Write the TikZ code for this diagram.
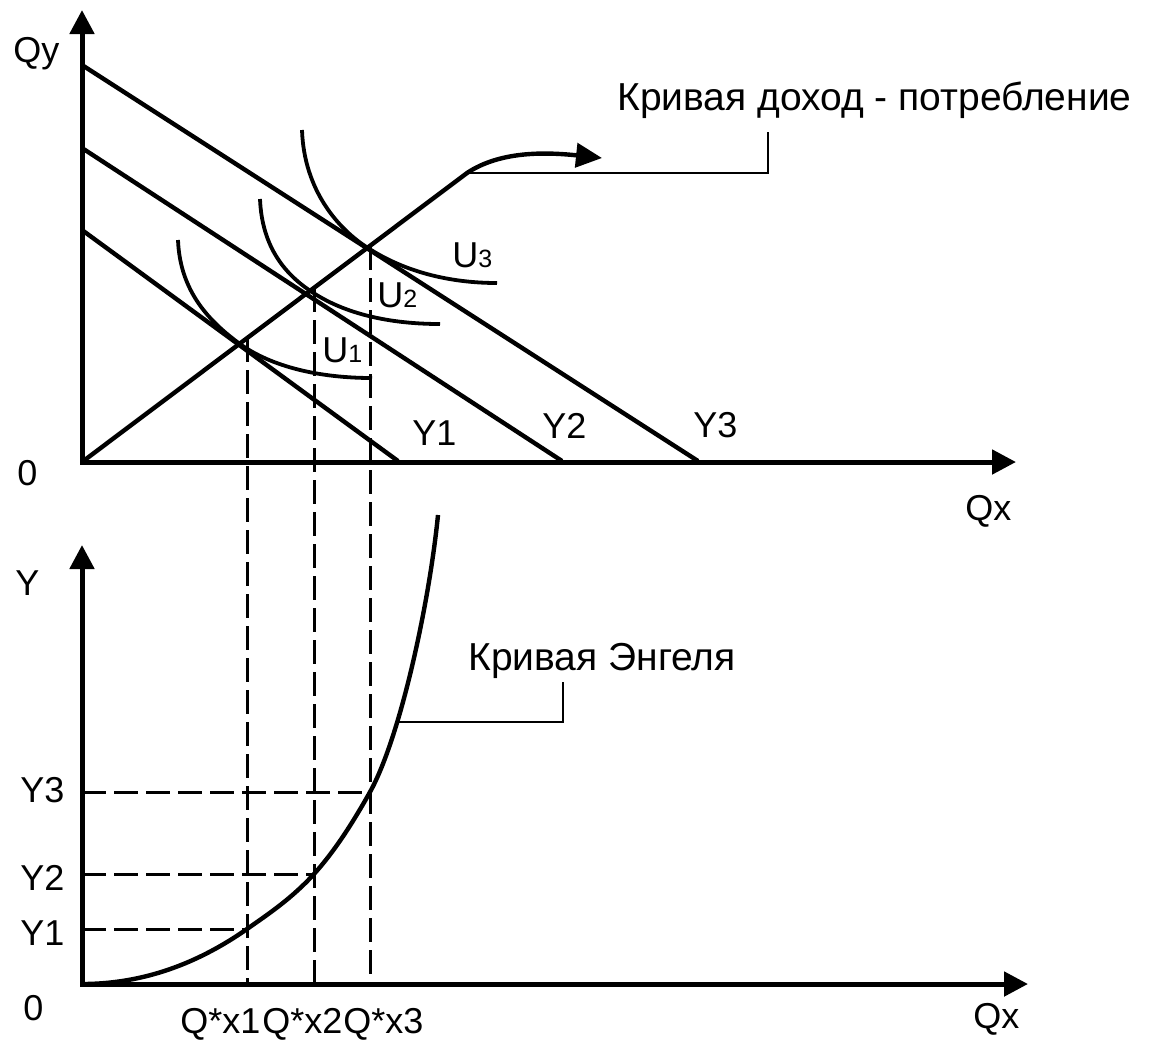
\documentclass[tikz,border=0pt]{standalone}
\usepackage{fontspec}
\setmainfont{Liberation Sans}
\usetikzlibrary{arrows.meta}

\newcommand{\smalldig}[1]{{\fontsize{12.5}{13}\selectfont #1}}

\begin{document}
\begin{tikzpicture}[x=0.5pt, y=-0.5pt, font=\fontsize{18}{21.6}\selectfont]

% --- Styles ---
\tikzset{
    axisline/.style={line width=2.5pt, line join=miter, {Triangle[length=12pt, width=12pt]}-{Triangle[length=12pt, width=12pt]}},
    budget/.style={line width=2.2pt},
    indiff/.style={line width=1.9pt},
    guide/.style={line width=1.5pt, dash pattern=on 12pt off 4pt},
    leader/.style={line width=1pt},
    lbl/.style={inner sep=0pt, anchor=base west},
    note/.style={inner sep=0pt, anchor=base west, font=\fontsize{19.5}{23}\selectfont},
}

\useasboundingbox (0,0) rectangle (1162,1041);

% --- Upper graph: axes ---
\coordinate (O1) at (82,462);
\coordinate (qyend) at (82,10);
\coordinate (qxend) at (1016,462);
\draw[axisline] (qyend) -- (O1) -- (qxend);
\node[lbl] (qy) at (13,62) {Qy};
\node[lbl] (qx1) at (965,520) {Qx};
\node[lbl] (zero1) at (17,485) {0};

% --- Budget lines ---
\draw[budget] (82,230) -- (398,461);
\draw[budget] (82,148) -- (562,461);
\draw[budget] (82,65) -- (698,461);
\node[lbl] (y1) at (412,445) {Y1};
\node[lbl] (y2) at (542,438) {Y2};
\node[lbl] (y3) at (693,437) {Y3};

% --- Indifference curves ---
\coordinate (E1) at (240,344);
\coordinate (E2) at (312,292);
\coordinate (E3) at (368,248);
\draw[indiff] (178,240) .. controls (180,292) and (210,322) .. (E1) .. controls (272,367) and (320,378) .. (372,378);
\draw[indiff] (260,199) .. controls (262,248) and (286,275) .. (E2) .. controls (345,314) and (390,324) .. (440,324);
\draw[indiff] (302,130) .. controls (304,190) and (338,229) .. (E3) .. controls (405,272) and (450,283) .. (497,283);
\node[lbl] (u1) at (322,362) {U\smalldig{1}};
\node[lbl] (u2) at (377,307) {U\smalldig{2}};
\node[lbl] (u3) at (452,267) {U\smalldig{3}};

% --- Income-consumption curve ---
\coordinate (bend) at (467,173);
\coordinate (icctip) at (602,158);
\draw[budget, -{Triangle[length=13pt, width=12pt]}] (O1) -- (bend) .. controls (500,151) and (545,152) .. (icctip);
\node[note] (icclabel) at (617,110) {Кривая доход - потребление};
\coordinate (icccorner) at (768,173);
\coordinate (iccup) at (768,132);
\draw[leader] (bend) -- (icccorner) -- (iccup);

% --- Lower graph: axes ---
\coordinate (O2) at (82,984);
\coordinate (yend) at (82,545);
\coordinate (qxend2) at (1028,984);
\draw[axisline] (yend) -- (O2) -- (qxend2);
\node[lbl] (ylab) at (15,595) {Y};
\node[lbl] (qx2) at (973,1028) {Qx};
\node[lbl] (zero2) at (23,1020) {0};

% --- Engel curve ---
\coordinate (P1) at (247,929);
\coordinate (P2) at (314,874);
\coordinate (P3) at (370,792);
\coordinate (P4) at (438,515);
\draw[budget] (O2) .. controls (137,984) and (192,967.5) .. (P1)
    .. controls (269,913.6) and (292,898.2) .. (P2)
    .. controls (333,853) and (351,826) .. (P3)
    .. controls (400,738) and (429,605) .. (P4);
\node[note] (engel) at (468,670) {Кривая Энгеля};
\coordinate (engelpt) at (398,722);
\coordinate (engelcorner) at (563,722);
\coordinate (engelup) at (563,682);
\draw[leader] (engelpt) -- (engelcorner) -- (engelup);

% --- Dashed projections ---
\draw[guide] (247,338) -- (247,984);
\draw[guide] (314,288) -- (314,984);
\draw[guide] (370,246) -- (370,984);
\draw[guide] (82,929) -- (P1);
\draw[guide] (82,874) -- (P2);
\draw[guide] (82,792) -- (P3);
\node[lbl] (ly1) at (20,945) {Y1};
\node[lbl] (ly2) at (20,890) {Y2};
\node[lbl] (ly3) at (20,802) {Y3};
\node[lbl] (q1) at (180,1033) {Q*x1};
\node[lbl] (q2) at (262,1033) {Q*x2};
\node[lbl] (q3) at (343,1033) {Q*x3};

\end{tikzpicture}
\end{document}
